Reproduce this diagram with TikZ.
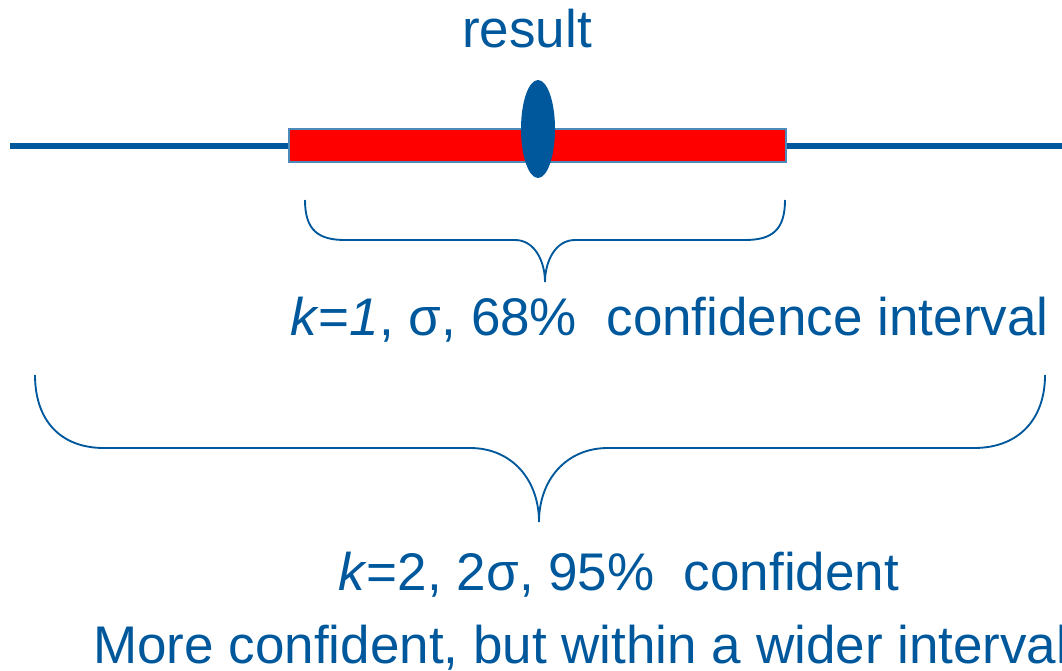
\documentclass[tikz,border=0pt]{standalone}
\usepackage{fontspec}
\setmainfont{Liberation Sans}
\definecolor{dblue}{HTML}{00589C}
\definecolor{bred}{HTML}{FF0000}
\begin{document}
\begin{tikzpicture}[x=0.75pt,y=-0.75pt,
  lbl/.style={inner sep=0pt,anchor=base west,text=dblue,font=\fontsize{39.75}{48}\selectfont},
  brace/.style={draw=dblue,line width=1.4pt}]
\useasboundingbox (0,0) rectangle (1062,670);
% axis line
\draw[dblue,line width=4.1pt] (10,146) -- (1062,146);
% interval bar
\draw[draw=dblue!70,line width=0.8pt,fill=bred] (289,129) rectangle (786,162);
% result marker
\fill[dblue] (538,129) ellipse [x radius=17,y radius=49];
\node[lbl] (res) at (462,48) {result};
% small brace
\draw[brace] (305,200) .. controls (305,230) and (318,240) .. (345,240) -- (515,240)
  .. controls (535,240) and (545,262) .. (545,282)
  .. controls (545,262) and (555,240) .. (575,240) -- (745,240)
  .. controls (772,240) and (785,230) .. (785,200);
\node[lbl] (t1) at (290,335) {\textit{k}=\textit{1}, σ, 68\%\ \ confidence interval};
% big brace
\draw[brace] (35,375) .. controls (35,420) and (60,448) .. (104,448) -- (470,448)
  .. controls (512,448) and (539,480) .. (539,522)
  .. controls (539,480) and (566,448) .. (608,448) -- (974,448)
  .. controls (1018,448) and (1045,420) .. (1045,375);
\node[lbl] (t2) at (338,590) {\textit{k}=2, 2σ, 95\%\ \ confident};
\node[lbl] (t3) at (93,663) {More confident, but within a wider interval};
\end{tikzpicture}
\end{document}
